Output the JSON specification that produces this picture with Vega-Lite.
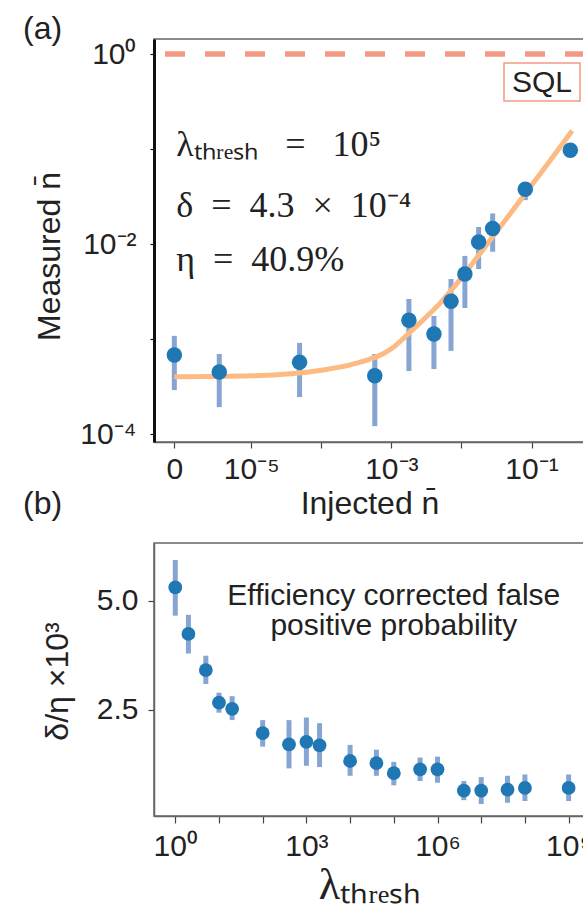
{
  "$schema": "https://vega.github.io/schema/vega-lite/v6.json",
  "background": "white",
  "padding": {"left": 22, "top": 12, "right": 0, "bottom": 0},
  "spacing": 101,
  "bounds": "flush",
  "config": {
    "view": {"stroke": "#666", "strokeWidth": 1.5},
    "font": "Liberation Sans",
    "axis": {
      "labelFont": "Liberation Sans", "labelFontSize": 30, "labelColor": "#222",
      "titleFont": "Liberation Sans", "titleFontSize": 32, "titleColor": "#222", "titleFontWeight": "normal",
      "grid": false, "domainColor": "#666", "domainWidth": 1.5, "tickColor": "#444", "tickWidth": 1.2,
      "labelOverlap": false, "labelBound": false, "labelFlush": false
    }
  },
  "datasets": {
    "a_points": [
      {"x": 8e-7, "y": 6.8e-4, "lo": 2.9e-4, "hi": 1.08e-3},
      {"x": 3.5e-6, "y": 4.5e-4, "lo": 1.92e-4, "hi": 6.95e-4},
      {"x": 4.9e-5, "y": 5.7e-4, "lo": 2.45e-4, "hi": 9.1e-4},
      {"x": 5.8e-4, "y": 4.1e-4, "lo": 1.21e-4, "hi": 6.95e-4},
      {"x": 1.78e-3, "y": 1.58e-3, "lo": 4.6e-4, "hi": 2.64e-3},
      {"x": 4.05e-3, "y": 1.13e-3, "lo": 4.83e-4, "hi": 1.75e-3},
      {"x": 7.1e-3, "y": 2.5e-3, "lo": 7.5e-4, "hi": 4.28e-3},
      {"x": 1.12e-2, "y": 4.83e-3, "lo": 2.12e-3, "hi": 7.5e-3},
      {"x": 1.76e-2, "y": 1.05e-2, "lo": 5.46e-3, "hi": 1.51e-2},
      {"x": 2.79e-2, "y": 1.46e-2, "lo": 8.3e-3, "hi": 2.1e-2},
      {"x": 8.15e-2, "y": 3.77e-2, "lo": 2.9e-2, "hi": 4.4e-2},
      {"x": 0.358, "y": 0.0969, "lo": 0.09, "hi": 0.104}
    ],
    "a_fit": [
      {"x": 8e-7, "y": 4.0e-4},
      {"x": 1e-5, "y": 4.1e-4},
      {"x": 1e-4, "y": 4.7e-4},
      {"x": 3e-4, "y": 5.5e-4},
      {"x": 1e-3, "y": 7.9e-4},
      {"x": 2e-3, "y": 1.25e-3},
      {"x": 5e-3, "y": 2.4e-3},
      {"x": 1e-2, "y": 4.4e-3},
      {"x": 2e-2, "y": 8.6e-3},
      {"x": 5e-2, "y": 2.1e-2},
      {"x": 1e-1, "y": 4.15e-2},
      {"x": 2e-1, "y": 8.2e-2},
      {"x": 3.8e-1, "y": 1.56e-1}
    ],
    "a_text": [
      {"x": 8.5e-7, "y": 0.110, "label": "λₜₕᵣₑₛₕ\u2002\u2005=\u2002\u200510⁵"},
      {"x": 8.5e-7, "y": 0.0251, "label": "δ\u2002=\u20024.3\u2002×\u200210⁻⁴"},
      {"x": 8.5e-7, "y": 0.0068, "label": "η\u2002=\u200240.9%"}
    ],
    "a_sql": [
      {"x": 0.0405, "x2": 0.493, "y": 0.32, "y2": 0.804, "xt": 0.141, "yt": 0.495, "line": 1, "label": "SQL"}
    ],
    "b_points": [
      {"x": 1, "y": 5.31, "lo": 4.66, "hi": 5.94},
      {"x": 2, "y": 4.24, "lo": 3.79, "hi": 4.68},
      {"x": 5, "y": 3.41, "lo": 3.09, "hi": 3.74},
      {"x": 10, "y": 2.66, "lo": 2.43, "hi": 2.89},
      {"x": 20, "y": 2.52, "lo": 2.26, "hi": 2.81},
      {"x": 100, "y": 1.96, "lo": 1.65, "hi": 2.26},
      {"x": 400, "y": 1.70, "lo": 1.15, "hi": 2.26},
      {"x": 1000, "y": 1.76, "lo": 1.21, "hi": 2.32},
      {"x": 2000, "y": 1.68, "lo": 1.18, "hi": 2.19},
      {"x": 10000, "y": 1.32, "lo": 0.98, "hi": 1.69},
      {"x": 40000, "y": 1.27, "lo": 0.98, "hi": 1.58},
      {"x": 100000, "y": 1.04, "lo": 0.76, "hi": 1.30},
      {"x": 400000, "y": 1.13, "lo": 0.86, "hi": 1.40},
      {"x": 1000000, "y": 1.13, "lo": 0.82, "hi": 1.42},
      {"x": 4000000, "y": 0.64, "lo": 0.42, "hi": 0.86},
      {"x": 10000000, "y": 0.64, "lo": 0.33, "hi": 0.95},
      {"x": 40000000, "y": 0.66, "lo": 0.36, "hi": 0.98},
      {"x": 100000000, "y": 0.70, "lo": 0.40, "hi": 1.01},
      {"x": 1000000000, "y": 0.70, "lo": 0.40, "hi": 1.01}
    ],
    "b_text": [
      {"x": 100000, "y": 5.11, "label": "Efficiency corrected false\npositive probability"}
    ]
  },
  "vconcat": [
    {
      "width": 431,
      "height": 403,
      "title": {"text": "(a)", "anchor": "start", "frame": "group", "dx": -131, "offset": -32, "baseline": "alphabetic", "fontSize": 32, "font": "Liberation Sans", "fontWeight": "normal", "color": "#222"},
      "layer": [
        {
          "data": {"name": "a_points"},
          "mark": {"type": "rule", "color": "#87a5d3", "strokeWidth": 5},
          "encoding": {
            "x": {"field": "x", "type": "quantitative",
              "scale": {"type": "log", "domain": [4.1e-7, 0.58], "nice": false},
              "axis": {"title": "Injected n̄", "values": [8e-7, 1e-5, 1e-4, 1e-3, 1e-2, 1e-1],
                "labelExpr": "datum.value < 2e-6 ? '0' : (round(log(datum.value)/LN10) == -5 ? '10⁻⁵' : (round(log(datum.value)/LN10) == -3 ? '10⁻³' : (round(log(datum.value)/LN10) == -1 ? '10⁻¹' : '')))",
                "tickSize": 6, "labelPadding": 6, "titlePadding": 4}},
            "y": {"field": "lo", "type": "quantitative",
              "scale": {"type": "log", "domain": [8.24e-5, 1.44], "nice": false},
              "axis": {"title": "Measured n̄", "values": [1e-4, 1e-3, 1e-2, 1e-1, 1],
                "labelExpr": "round(log(datum.value)/LN10) == 0 ? '10⁰' : (round(log(datum.value)/LN10) == -2 ? '10⁻²' : (round(log(datum.value)/LN10) == -4 ? '10⁻⁴' : ''))",
                "domainColor": "#111", "domainWidth": 3, "tickColor": "#111", "tickSize": 4, "labelPadding": 14,
                "titleX": -105, "titleY": 217, "titleBaseline": "middle"}},
            "y2": {"field": "hi"}
          }
        },
        {
          "data": {"name": "a_fit"},
          "mark": {"type": "line", "color": "#FDBB84", "strokeWidth": 5, "interpolate": "monotone"},
          "encoding": {
            "x": {"field": "x", "type": "quantitative"},
            "y": {"field": "y", "type": "quantitative"}
          }
        },
        {
          "data": {"name": "a_points"},
          "mark": {"type": "point", "filled": true, "size": 240, "color": "#1f77b4", "opacity": 1},
          "encoding": {
            "x": {"field": "x", "type": "quantitative"},
            "y": {"field": "y", "type": "quantitative"}
          }
        },
        {
          "data": {"name": "a_sql"},
          "mark": {"type": "rule", "color": "#F29A84", "strokeWidth": 5.5, "strokeDash": [20, 20]},
          "encoding": {
            "y": {"field": "line", "type": "quantitative"}
          }
        },
        {
          "data": {"name": "a_sql"},
          "mark": {"type": "rect", "fill": "white", "stroke": "#F29A84", "strokeWidth": 1.5},
          "encoding": {
            "x": {"field": "x", "type": "quantitative"},
            "x2": {"field": "x2"},
            "y": {"field": "y", "type": "quantitative"},
            "y2": {"field": "y2"}
          }
        },
        {
          "data": {"name": "a_sql"},
          "mark": {"type": "text", "fontSize": 30, "font": "Liberation Sans", "color": "#222", "align": "center", "baseline": "middle"},
          "encoding": {
            "x": {"field": "xt", "type": "quantitative"},
            "y": {"field": "yt", "type": "quantitative"},
            "text": {"field": "label"}
          }
        },
        {
          "data": {"name": "a_text"},
          "mark": {"type": "text", "fontSize": 36, "font": "Liberation Serif", "color": "#222", "align": "left", "baseline": "middle"},
          "encoding": {
            "x": {"field": "x", "type": "quantitative"},
            "y": {"field": "y", "type": "quantitative"},
            "text": {"field": "label"}
          }
        }
      ]
    },
    {
      "width": 431,
      "height": 273,
      "title": {"text": "(b)", "anchor": "start", "frame": "group", "dx": -131, "offset": -3, "baseline": "alphabetic", "fontSize": 32, "font": "Liberation Sans", "fontWeight": "normal", "color": "#222"},
      "layer": [
        {
          "data": {"name": "b_points"},
          "mark": {"type": "rule", "color": "#87a5d3", "strokeWidth": 5},
          "encoding": {
            "x": {"field": "x", "type": "quantitative",
              "scale": {"type": "log", "domain": [0.326, 2.37e9], "nice": false},
              "axis": {"title": "λₜₕᵣₑₛₕ", "titleFont": "Liberation Serif", "titleFontSize": 44,
                "values": [1, 10, 100, 1000, 10000, 100000, 1000000, 10000000, 100000000, 1000000000],
                "labelExpr": "round(log(datum.value)/LN10) == 0 ? '10⁰' : (round(log(datum.value)/LN10) == 3 ? '10³' : (round(log(datum.value)/LN10) == 6 ? '10⁶' : (round(log(datum.value)/LN10) == 9 ? '10⁹' : '')))",
                "tickSize": 7, "labelPadding": 8, "titlePadding": 2}},
            "y": {"field": "lo", "type": "quantitative",
              "scale": {"domain": [0.056, 6.33], "nice": false, "zero": false},
              "axis": {"title": "δ/η ×10³", "values": [2.5, 5.0], "labelExpr": "format(datum.value, '.1f')",
                "tickSize": 6, "labelPadding": 10, "titleX": -97, "titleY": 138, "titleBaseline": "middle"}},
            "y2": {"field": "hi"}
          }
        },
        {
          "data": {"name": "b_points"},
          "mark": {"type": "point", "filled": true, "size": 190, "color": "#1f77b4", "opacity": 1},
          "encoding": {
            "x": {"field": "x", "type": "quantitative"},
            "y": {"field": "y", "type": "quantitative"}
          }
        },
        {
          "data": {"name": "b_text"},
          "mark": {"type": "text", "fontSize": 30, "font": "Liberation Sans", "color": "#222", "align": "center", "baseline": "middle", "lineBreak": "\n", "lineHeight": 30},
          "encoding": {
            "x": {"field": "x", "type": "quantitative"},
            "y": {"field": "y", "type": "quantitative"},
            "text": {"field": "label"}
          }
        }
      ]
    }
  ]
}
